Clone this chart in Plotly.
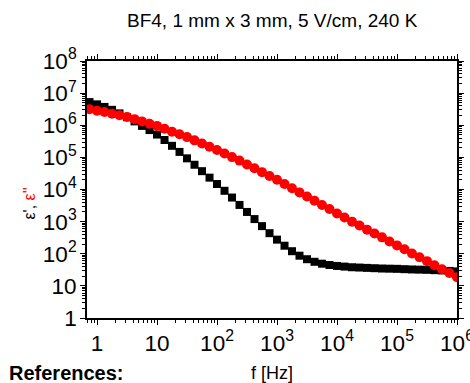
import plotly.graph_objects as go

# Frequency (Hz)
freq = [0.750, 1, 1.334, 1.778, 2.371, 3.162, 4.217, 5.623, 7.499,
        10, 13.34, 17.78, 23.71, 31.62, 42.17, 56.23, 74.99,
        100, 133.4, 177.8, 237.1, 316.2, 421.7, 562.3, 749.9,
        1000, 1334, 1778, 2371, 3162, 4217, 5623, 7499,
        1e4, 13340, 17780, 23710, 31620, 42170, 56230, 74990,
        1e5, 133400, 177800, 237100, 316200, 421700, 562300, 749900,
        1e6]

# epsilon' (black squares)
eps_real = [5.25e6, 4.47e6, 3.72e6, 3.02e6, 2.34e6, 1.78e6, 1.32e6, 9.55e5, 7.08e5,
            5.13e5, 3.47e5, 2.29e5, 1.48e5, 9.33e4, 5.89e4, 3.72e4, 2.34e4,
            1.48e4, 9.12e3, 5.62e3, 3.31e3, 2.00e3, 1.20e3, 724, 437,
            275, 178, 120, 87, 67.6, 56.2, 49.0, 44.7,
            41.7, 39.8, 38.0, 37.2, 36.3, 35.5, 34.7, 34.3,
            33.9, 33.1, 32.4, 32.0, 31.6, 30.9, 30.2, 29.2,
            28.2]

# epsilon'' (red circles)
eps_imag = [3.16e6, 2.82e6, 2.57e6, 2.29e6, 2.04e6, 1.82e6, 1.55e6, 1.32e6, 1.12e6,
            9.55e5, 7.76e5, 6.31e5, 5.25e5, 4.27e5, 3.39e5, 2.69e5, 2.14e5,
            1.70e5, 1.32e5, 1.02e5, 7.94e4, 6.03e4, 4.57e4, 3.47e4, 2.63e4,
            2.00e4, 1.48e4, 1.10e4, 8.13e3, 6.03e3, 4.47e3, 3.31e3, 2.48e3,
            1.78e3, 1.34e3, 1.00e3, 759, 562, 427, 324, 240,
            182, 138, 102, 77.6, 58.9, 43.7, 33.1, 25.1,
            18.6]

title_text = "BF4, 1 mm x 3 mm, 5 V/cm, 240 K"
x_title = "f [Hz]"
refs_text = "<b>References:</b>"

FONT = "Liberation Sans, Arial, sans-serif"

fig = go.Figure()
fig.add_trace(go.Scatter(
    x=freq, y=eps_real, mode="markers",
    marker=dict(symbol="square", size=8, color="black", line=dict(width=0)),
    showlegend=False, cliponaxis=True, hoverinfo="skip"))
fig.add_trace(go.Scatter(
    x=freq, y=eps_imag, mode="markers",
    marker=dict(symbol="circle", size=10, color="#ff0000", line=dict(width=0)),
    showlegend=False, cliponaxis=True, hoverinfo="skip"))

axis_common = dict(
    type="log", showgrid=False, zeroline=False, automargin=False,
    showline=True, linecolor="black", linewidth=1.5, mirror="allticks",
    ticks="outside", ticklen=5, tickwidth=1.2, tickcolor="black",
    dtick=1, exponentformat="power", ticklabeloverflow="allow",
    tickfont=dict(family=FONT, size=18, color="black"),
    minor=dict(ticks="outside", ticklen=3, tickwidth=1, tickcolor="black",
               dtick="D1", showgrid=False),
)

fig.update_xaxes(range=[-0.167, 6.0], **axis_common)
fig.update_yaxes(range=[0, 8], **axis_common)

fig.update_layout(
    width=470, height=383,
    margin=dict(l=87, r=13, t=61, b=65),
    plot_bgcolor="white", paper_bgcolor="white",
    font=dict(family=FONT, color="black"),
    annotations=[
        dict(text=title_text, xref="paper", yref="paper", x=0.5, y=1,
             yshift=41, xanchor="center", yanchor="middle", showarrow=False,
             font=dict(family=FONT, size=19, color="black")),
        dict(text=x_title, xref="paper", yref="paper", x=0.5, y=0,
             yshift=-55, xanchor="center", yanchor="middle", showarrow=False,
             font=dict(family=FONT, size=18, color="black")),
        dict(text=refs_text, xref="paper", yref="paper", x=-0.216, y=0,
             yshift=-55, xanchor="left", yanchor="middle", showarrow=False,
             font=dict(family=FONT, size=20, color="black")),
        dict(text="ε', <span style='color:#ff0000'>ε''</span>",
             xref="paper", yref="paper", x=-0.155, y=0.444,
             xanchor="center", yanchor="middle", textangle=-90, showarrow=False,
             font=dict(family=FONT, size=16, color="black")),
    ],
)

fig.write_html("out.html",
               config={"displayModeBar": False},
               post_script="document.body.style.margin='0';document.body.style.overflow='hidden';")
